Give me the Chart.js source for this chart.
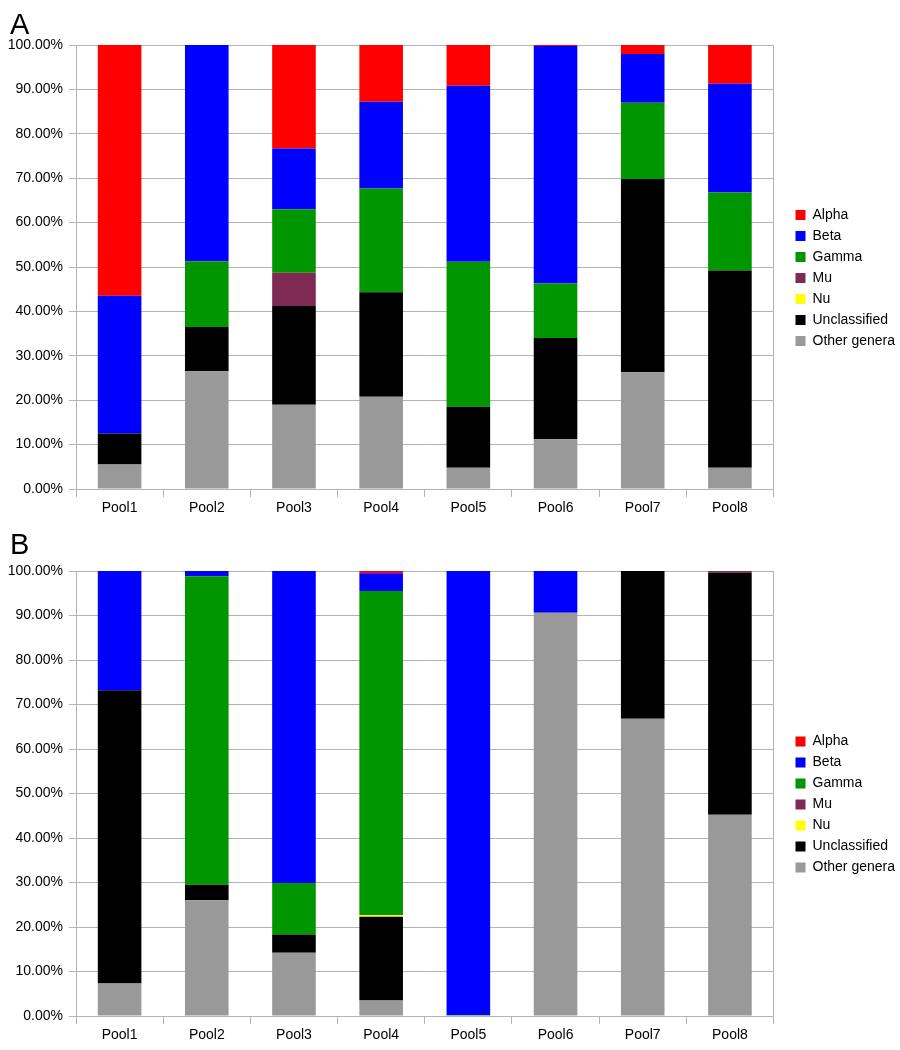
<!DOCTYPE html>
<html>
<head>
<meta charset="utf-8">
<script src="https://cdn.jsdelivr.net/npm/chart.js@4"></script>
<style>
  html, body { margin: 0; padding: 0; background: #fff; overflow: hidden; }
  body { width: 900px; height: 1050px; position: relative; font-family: "Liberation Sans", Arial, sans-serif; }
  .panel { position: absolute; left: 0; width: 905px; height: 525px; }
  .tag { position: absolute; left: 10px; font-size: 29px; line-height: 30px; color: #000; z-index: 2; }
</style>
</head>
<body>
<div class="tag" style="top:9px">A</div>
<div class="tag" style="top:529px">B</div>
<div class="panel" style="top:0"><canvas id="chartA"></canvas></div>
<div class="panel" style="top:525px"><canvas id="chartB"></canvas></div>
<script>
// Categorías y valores (porcentajes)
const pools = ['Pool1', 'Pool2', 'Pool3', 'Pool4', 'Pool5', 'Pool6', 'Pool7', 'Pool8'];
const yTicks = [0, 10, 20, 30, 40, 50, 60, 70, 80, 90, 100];

// Panel A
const alphaA   = [56.5, 0, 23.3, 12.8, 9.2, 0.2, 2, 8.7];
const betaA    = [31, 48.7, 13.7, 19.5, 39.6, 53.5, 11, 24.5];
const gammaA   = [0, 14.8, 14.3, 23.4, 32.7, 12.3, 17.2, 17.6];
const muA      = [0, 0, 7.5, 0, 0, 0, 0, 0];
const nuA      = [0, 0, 0, 0, 0, 0, 0, 0];
const unclassA = [7, 10, 22.2, 23.5, 13.7, 22.8, 43.5, 44.4];
const otherA   = [5.5, 26.5, 19, 20.8, 4.8, 11.2, 26.3, 4.8];

// Panel B
const alphaB   = [0, 0, 0, 0.5, 0, 0, 0, 0];
const betaB    = [26.8, 1.2, 70.1, 4, 99.8, 9.4, 0, 0];
const gammaB   = [0, 69.3, 11.6, 72.8, 0.2, 0, 0, 0];
const muB      = [0, 0, 0, 0, 0, 0, 0, 0.4];
const nuB      = [0, 0, 0, 0.4, 0, 0, 0, 0];
const unclassB = [65.9, 3.5, 4.1, 18.8, 0, 0, 33.2, 54.4];
const otherB   = [7.3, 26, 14.2, 3.5, 0, 90.6, 66.8, 45.2];

const gridColor = '#b3b3b3';
Chart.defaults.font.family = '"Liberation Sans", Arial, sans-serif';
Chart.defaults.font.size = 14;
Chart.defaults.color = '#000';

// Sube un poco la leyenda
const legendShift = {
    id: 'legendShift',
    afterLayout(chart) {
        if (chart.legend) {
            chart.legend.top -= 4;
            chart.legend.bottom -= 4;
        }
    }
};

function makeDatasets(alpha, beta, gamma, mu, nu, unclass, other) {
    // orden de abajo hacia arriba; la leyenda se invierte
    return [
        { label: 'Other genera', data: other, backgroundColor: '#999999' },
        { label: 'Unclassified', data: unclass, backgroundColor: '#000000' },
        { label: 'Nu', data: nu, backgroundColor: '#ffff00' },
        { label: 'Mu', data: mu, backgroundColor: '#7e2a52' },
        { label: 'Gamma', data: gamma, backgroundColor: '#009600' },
        { label: 'Beta', data: beta, backgroundColor: '#0000ff' },
        { label: 'Alpha', data: alpha, backgroundColor: '#ff0000' }
    ];
}

function makeChart(id, datasets, pad) {
    const ctx = document.getElementById(id).getContext('2d');
    return new Chart(ctx, {
        type: 'bar',
        data: { labels: pools, datasets: datasets },
        plugins: [legendShift],
        options: {
            responsive: true,
            maintainAspectRatio: false,
            animation: false,
            categoryPercentage: 1,
            barPercentage: 0.5,
            layout: { padding: { top: pad.top, bottom: pad.bottom, left: 0, right: 0 } },
            plugins: {
                tooltip: { enabled: false },
                legend: {
                    position: 'right',
                    reverse: true,
                    labels: { boxWidth: 10, boxHeight: 10, padding: 7, font: { size: 14 } }
                }
            },
            scales: {
                x: {
                    stacked: true,
                    offset: true,
                    grid: { offset: true, drawOnChartArea: false, drawTicks: true, tickLength: 8, color: gridColor },
                    border: { display: true, color: gridColor },
                    ticks: { padding: 3, maxRotation: 0 },
                    afterFit: (scale) => { scale.height = 30; }
                },
                y: {
                    stacked: true,
                    min: 0,
                    max: 100,
                    afterBuildTicks: (scale) => { scale.ticks = yTicks.map(v => ({ value: v })); },
                    ticks: { padding: 6, callback: (v) => v.toFixed(2) + '%' },
                    grid: { color: gridColor, tickLength: 7 },
                    border: { display: true, color: gridColor },
                    afterFit: (scale) => { scale.width = 76; }
                },
                yR: {
                    position: 'right',
                    min: 0,
                    max: 100,
                    ticks: { display: false },
                    grid: { display: false, drawTicks: false },
                    border: { display: true, color: gridColor },
                    afterFit: (scale) => { scale.width = 15; }
                }
            }
        }
    });
}

document.addEventListener('DOMContentLoaded', function() {
    makeChart('chartA', makeDatasets(alphaA, betaA, gammaA, muA, nuA, unclassA, otherA), { top: 45, bottom: 6 });
    makeChart('chartB', makeDatasets(alphaB, betaB, gammaB, muB, nuB, unclassB, otherB), { top: 46, bottom: 4 });
});
</script>
</body>
</html>
